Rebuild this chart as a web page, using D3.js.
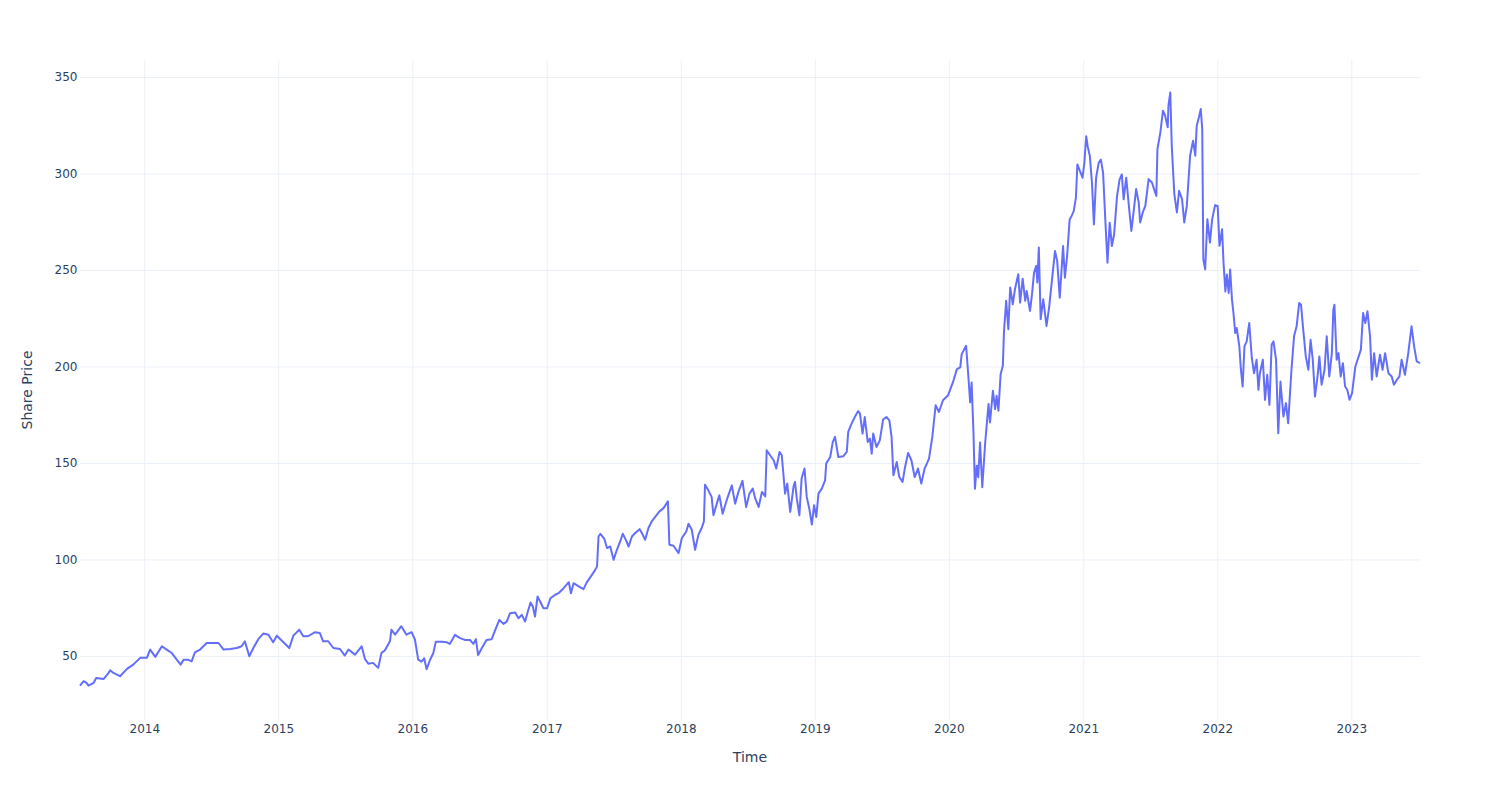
<!DOCTYPE html>
<meta charset="utf-8">
<html>
<head>
  <title>Share Price</title>
  <script src="https://d3js.org/d3.v7.min.js"></script>
  <style>
    body { margin: 0; background: #fff; font-family: "DejaVu Sans", "Open Sans", sans-serif; }
    .tick text { fill: #2a3f5f; font-size: 12px; }
    .tick line { stroke: #ebf0f8; stroke-width: 1px; }
    .axis-title { fill: #2a3f5f; font-size: 14px; }
  </style>
</head>
<body>
<div id="chart"></div>
<script>
// values
var dates = [
  "2013-07-10","2013-07-20","2013-07-28","2013-08-02","2013-08-16","2013-08-23","2013-09-12","2013-09-26","2013-09-30","2013-10-09",
  "2013-10-27","2013-11-15","2013-12-02","2013-12-21","2014-01-08","2014-01-17","2014-01-31","2014-02-18","2014-03-03","2014-03-17",
  "2014-03-31","2014-04-10","2014-04-18","2014-05-01","2014-05-10","2014-05-19","2014-06-02","2014-06-20","2014-07-08","2014-07-22",
  "2014-08-05","2014-08-23","2014-09-10","2014-09-23","2014-10-02","2014-10-14","2014-10-25","2014-11-08","2014-11-21","2014-12-05",
  "2014-12-18","2014-12-28","2015-01-15","2015-01-31","2015-02-11","2015-02-27","2015-03-10","2015-03-23","2015-04-11","2015-04-24",
  "2015-05-03","2015-05-17","2015-05-31","2015-06-18","2015-07-01","2015-07-11","2015-07-29","2015-08-16","2015-08-25","2015-09-03",
  "2015-09-16","2015-09-30","2015-10-09","2015-10-18","2015-11-01","2015-11-05","2015-11-15","2015-12-02","2015-12-16","2015-12-30",
  "2016-01-08","2016-01-17","2016-01-26","2016-02-02","2016-02-09","2016-02-18","2016-02-27","2016-03-05","2016-03-21","2016-04-03",
  "2016-04-12","2016-04-26","2016-05-10","2016-05-23","2016-06-06","2016-06-15","2016-06-22","2016-06-28","2016-07-08","2016-07-21",
  "2016-08-04","2016-08-13","2016-08-25","2016-09-05","2016-09-14","2016-09-23","2016-10-07","2016-10-16","2016-10-25","2016-11-03",
  "2016-11-12","2016-11-18","2016-11-24","2016-11-30","2016-12-07","2016-12-14","2016-12-23","2017-01-02","2017-01-11","2017-01-24",
  "2017-02-02","2017-02-16","2017-03-02","2017-03-08","2017-03-15","2017-03-29","2017-04-11","2017-04-20","2017-05-04","2017-05-13",
  "2017-05-18","2017-05-22","2017-05-27","2017-06-07","2017-06-14","2017-06-23","2017-07-02","2017-07-11","2017-07-20","2017-07-27",
  "2017-08-05","2017-08-12","2017-08-21","2017-08-30","2017-09-11","2017-09-17","2017-09-26","2017-10-05","2017-10-14","2017-10-28",
  "2017-11-04","2017-11-15","2017-11-27","2017-12-01","2017-12-12","2017-12-26","2018-01-04","2018-01-16","2018-01-22","2018-01-31",
  "2018-02-09","2018-02-18","2018-02-27","2018-03-05","2018-03-08","2018-03-17","2018-03-26","2018-03-31","2018-04-09","2018-04-16",
  "2018-04-25","2018-05-06","2018-05-20","2018-05-29","2018-06-07","2018-06-18","2018-06-28","2018-07-07","2018-07-16","2018-07-23",
  "2018-08-01","2018-08-10","2018-08-19","2018-08-23","2018-09-01","2018-09-11","2018-09-18","2018-09-27","2018-10-03","2018-10-12",
  "2018-10-18","2018-10-26","2018-11-04","2018-11-08","2018-11-13","2018-11-20","2018-11-26","2018-12-04","2018-12-10","2018-12-17",
  "2018-12-24","2018-12-30","2019-01-05","2019-01-11","2019-01-20","2019-01-29","2019-02-01","2019-02-12","2019-02-19","2019-02-25",
  "2019-03-06","2019-03-20","2019-03-29","2019-04-02","2019-04-11","2019-04-20","2019-04-29","2019-05-04","2019-05-11","2019-05-17",
  "2019-05-25","2019-05-31","2019-06-05","2019-06-09","2019-06-18","2019-06-27","2019-07-06","2019-07-15","2019-07-23","2019-07-29",
  "2019-08-03","2019-08-12","2019-08-19","2019-08-28","2019-09-03","2019-09-12","2019-09-21","2019-09-30","2019-10-09","2019-10-18",
  "2019-10-27","2019-11-08","2019-11-17","2019-11-26","2019-12-05","2019-12-16","2019-12-30","2020-01-12","2020-01-23","2020-02-01",
  "2020-02-05","2020-02-17","2020-02-23","2020-02-28","2020-03-03","2020-03-08","2020-03-12","2020-03-17","2020-03-21","2020-03-26",
  "2020-04-01","2020-04-09","2020-04-18","2020-04-22","2020-04-30","2020-05-06","2020-05-10","2020-05-15","2020-05-21","2020-05-27",
  "2020-05-30","2020-06-05","2020-06-11","2020-06-16","2020-06-23","2020-06-29","2020-07-08","2020-07-13","2020-07-20","2020-07-27",
  "2020-07-31","2020-08-09","2020-08-14","2020-08-20","2020-08-26","2020-08-29","2020-09-02","2020-09-07","2020-09-14","2020-09-23",
  "2020-09-30","2020-10-09","2020-10-16","2020-10-22","2020-10-29","2020-11-03","2020-11-07","2020-11-12","2020-11-18","2020-11-25",
  "2020-11-30","2020-12-06","2020-12-12","2020-12-16","2020-12-23","2020-12-30","2021-01-04","2021-01-09","2021-01-13","2021-01-19",
  "2021-01-25","2021-01-30","2021-02-05","2021-02-12","2021-02-18","2021-02-24","2021-03-02","2021-03-08","2021-03-14","2021-03-20",
  "2021-03-26","2021-04-03","2021-04-10","2021-04-16","2021-04-21","2021-04-28","2021-05-07","2021-05-12","2021-05-18","2021-05-25",
  "2021-06-01","2021-06-05","2021-06-12","2021-06-19","2021-06-28","2021-07-07","2021-07-16","2021-07-19","2021-07-22","2021-07-30",
  "2021-08-06","2021-08-12","2021-08-19","2021-08-21","2021-08-26","2021-08-30","2021-09-06","2021-09-13","2021-09-19","2021-09-27",
  "2021-10-03","2021-10-10","2021-10-19","2021-10-27","2021-11-02","2021-11-06","2021-11-12","2021-11-17","2021-11-21","2021-11-24",
  "2021-11-29","2021-12-05","2021-12-12","2021-12-18","2021-12-26","2022-01-02","2022-01-07","2022-01-14","2022-01-18","2022-01-23",
  "2022-01-27","2022-02-01","2022-02-05","2022-02-10","2022-02-14","2022-02-19","2022-02-23","2022-03-02","2022-03-06","2022-03-11",
  "2022-03-16","2022-03-22","2022-03-29","2022-04-05","2022-04-11","2022-04-18","2022-04-23","2022-04-27","2022-05-05","2022-05-11",
  "2022-05-17","2022-05-23","2022-05-29","2022-06-03","2022-06-10","2022-06-16","2022-06-22","2022-06-30","2022-07-07","2022-07-13",
  "2022-07-22","2022-07-29","2022-08-05","2022-08-12","2022-08-17","2022-08-23","2022-08-30","2022-09-06","2022-09-12","2022-09-18",
  "2022-09-24","2022-10-01","2022-10-06","2022-10-12","2022-10-20","2022-10-26","2022-11-02","2022-11-09","2022-11-13","2022-11-16",
  "2022-11-22","2022-11-27","2022-12-03","2022-12-09","2022-12-15","2022-12-21","2022-12-27","2023-01-03","2023-01-12","2023-01-21",
  "2023-01-27","2023-02-02","2023-02-08","2023-02-14","2023-02-21","2023-02-26","2023-03-04","2023-03-11","2023-03-20","2023-03-27",
  "2023-04-03","2023-04-12","2023-04-21","2023-04-27","2023-05-05","2023-05-12","2023-05-18","2023-05-27","2023-06-05","2023-06-14",
  "2023-06-21","2023-06-28","2023-07-07"
];
var prices = [
  34.6,36.9,36.0,34.6,36.0,38.6,38.0,41.2,42.6,41.2,
  39.5,43.3,45.5,49.0,49.0,53.3,49.5,55.0,53.3,51.5,
  48.0,45.5,48.0,48.0,47.2,51.9,53.3,56.7,56.7,56.7,
  53.3,53.6,54.1,55.0,57.6,49.8,54.1,58.8,61.6,61.0,
  57.1,60.5,57.1,54.1,60.5,63.6,60.2,60.2,62.3,61.9,
  57.6,57.6,54.1,53.6,50.2,53.3,50.7,55.0,48.4,46.0,
  46.4,43.8,51.6,52.8,57.6,63.6,61.0,65.4,61.0,62.3,
  58.5,48.1,47.1,48.8,43.1,47.9,51.4,57.4,57.4,57.1,
  56.2,60.9,59.2,58.3,58.3,56.2,58.7,50.5,54.0,58.3,
  58.7,63.1,68.7,66.6,67.8,72.1,72.5,69.5,71.3,67.8,
  73.9,77.7,75.6,70.4,80.8,78.2,74.7,74.7,79.9,81.7,
  82.5,85.1,88.2,82.5,87.7,86.0,84.6,88.1,92.0,94.6,
  96.4,111.9,113.3,110.6,105.9,106.7,99.8,105.0,109.3,113.3,
  109.9,106.7,111.9,113.7,115.7,113.7,110.2,116.3,119.7,123.2,
  124.9,126.6,130.1,107.6,107.1,103.3,111.1,114.5,118.5,115.4,
  105.0,112.8,116.3,119.7,138.7,135.8,132.4,122.9,128.9,133.2,
  123.7,130.7,138.4,128.9,135.0,140.7,127.2,134.1,136.7,131.5,
  127.2,135.0,132.7,156.6,154.0,151.4,147.1,155.7,154.0,134.1,
  139.3,124.6,137.6,140.2,131.5,122.9,141.9,147.1,132.4,126.3,
  118.1,128.1,122.0,134.1,136.7,141.0,149.7,153.1,160.9,163.5,
  153.1,153.5,155.7,166.1,170.4,173.8,176.9,175.6,165.2,173.8,
  160.9,162.6,154.8,165.2,158.3,161.7,172.5,173.8,172.1,163.5,
  143.6,150.5,142.7,140.2,147.1,155.2,151.4,142.7,147.1,139.3,
  147.1,152.2,163.5,179.9,176.4,182.5,185.1,191.7,198.6,199.5,
  206.4,210.7,195.2,181.4,191.7,165.9,136.6,148.6,142.6,160.6,
  137.4,160.6,180.5,171.0,187.4,177.9,184.8,177.1,196.0,200.4,
  217.6,234.0,219.3,240.9,232.2,240.0,247.8,233.1,245.5,234.0,
  239.1,228.8,236.6,248.6,252.1,243.5,261.6,224.5,234.8,221.0,
  230.5,246.9,259.8,254.7,235.7,250.3,262.4,246.0,257.2,276.2,
  277.9,280.5,287.4,304.7,301.2,297.8,305.5,319.3,314.1,309.0,
  294.3,273.6,297.8,305.5,307.2,300.3,276.2,253.8,274.5,262.4,
  268.5,288.3,296.9,299.5,286.6,297.8,279.7,270.2,279.8,291.9,
  285.0,274.6,279.8,283.2,297.1,295.3,290.1,288.4,312.6,321.3,
  332.5,329.9,323.9,335.1,342.0,314.4,289.3,279.8,291.0,286.7,
  274.6,283.2,309.2,317.0,309.2,324.7,329.1,333.4,323.0,255.5,
  250.3,276.3,264.2,276.3,283.6,283.2,262.5,271.1,253.6,238.9,
  247.6,238.1,250.2,234.6,227.7,217.3,219.9,210.4,199.1,189.6,
  210.4,213.0,222.5,204.4,196.5,203.5,187.9,196.5,203.5,182.7,
  195.7,180.1,211.2,213.0,203.5,165.4,192.2,174.1,181.0,170.6,
  198.3,215.6,220.8,232.9,232.0,219.0,205.2,198.3,213.8,203.5,
  184.4,194.8,205.2,190.5,198.3,215.6,194.8,206.9,229.4,232.0,
  203.5,206.9,194.8,201.7,189.6,187.9,182.7,186.2,200.0,205.2,
  208.7,227.7,222.5,228.6,215.6,193.1,206.9,194.8,206.1,198.3,
  206.9,196.5,194.8,190.5,193.1,194.8,203.5,195.7,206.9,220.8,
  210.4,202.6,201.7
];
var yTicks = [50, 100, 150, 200, 250, 300, 350];
var xTickLabels = ["2014","2015","2016","2017","2018","2019","2020","2021","2022","2023"];

var width = 1500;
var height = 800;
var margin = {top: 60, right: 80, bottom: 80, left: 80};
var plotW = width - margin.left - margin.right;
var plotH = height - margin.top - margin.bottom;

var parse = d3.timeParse("%Y-%m-%d");
var data = dates.map(function(d, i) { return {date: parse(d), value: prices[i]}; });

var svg = d3.select("#chart")
  .append("svg")
  .attr("width", width)
  .attr("height", height);

var g = svg.append("g")
  .attr("transform", "translate(" + margin.left + "," + margin.top + ")");

var x = d3.scaleTime()
  .domain(d3.extent(data, function(d) { return d.date; }))
  .range([0, plotW]);

var y = d3.scaleLinear()
  .domain([16.8, 358.8])
  .range([plotH, 0]);

// gridlines + tick labels
var xAxis = d3.axisBottom(x)
  .tickValues(xTickLabels.map(function(t) { return new Date(+t, 0, 1); }))
  .tickFormat(d3.timeFormat("%Y"))
  .tickSize(-plotH)
  .tickPadding(4);

var yAxis = d3.axisLeft(y)
  .tickValues(yTicks)
  .tickSize(-plotW)
  .tickPadding(2.5);

g.append("g")
  .attr("class", "x axis")
  .attr("transform", "translate(0," + plotH + ")")
  .call(xAxis)
  .call(function(s) { s.select(".domain").remove(); });

g.append("g")
  .attr("class", "y axis")
  .call(yAxis)
  .call(function(s) { s.select(".domain").remove(); });

g.selectAll(".tick text")
  .attr("font-family", "DejaVu Sans, sans-serif");

// the price line
var line = d3.line()
  .x(function(d) { return x(d.date); })
  .y(function(d) { return y(d.value); });

g.append("path")
  .datum(data)
  .attr("fill", "none")
  .attr("stroke", "#636efa")
  .attr("stroke-width", 2)
  .attr("stroke-linejoin", "round")
  .attr("d", line);

// axis titles
svg.append("text")
  .attr("class", "axis-title")
  .attr("x", margin.left + plotW / 2)
  .attr("y", 761.5)
  .attr("text-anchor", "middle")
  .text("Time");

svg.append("text")
  .attr("class", "axis-title")
  .attr("transform", "translate(31.5," + (margin.top + plotH / 2) + ") rotate(-90)")
  .attr("text-anchor", "middle")
  .text("Share Price");
</script>
</body>
</html>
